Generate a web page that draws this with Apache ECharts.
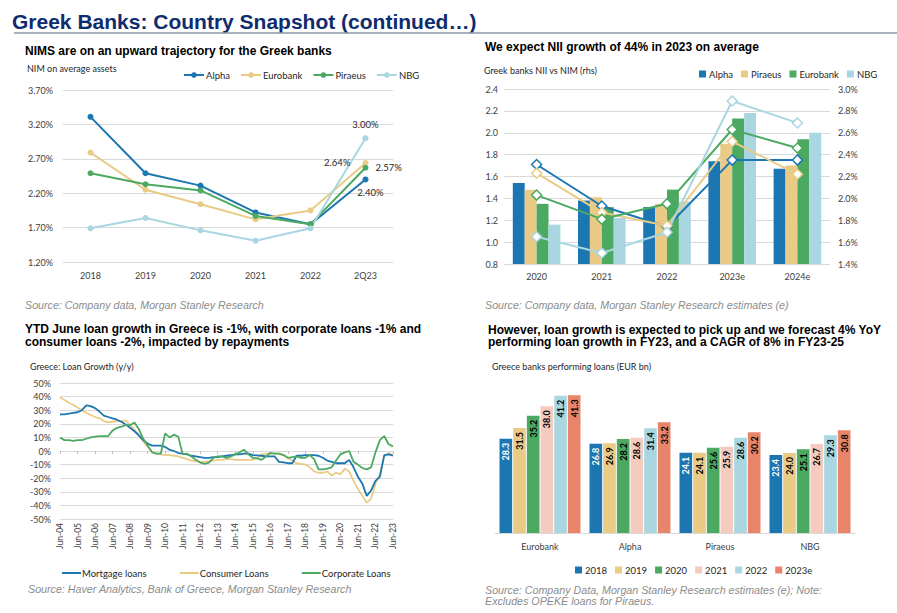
<!DOCTYPE html>
<html><head><meta charset="utf-8">
<script src="https://cdn.jsdelivr.net/npm/echarts@6/dist/echarts.min.js"></script>
<style>html,body{margin:0;padding:0;background:#fff;}#c{width:897px;height:613px;}</style>
</head><body><div id="c"></div>
<script>
// ---------- Panel 1: NIM on average assets ----------
const nimYears = ['2018','2019','2020','2021','2022','2Q23'];
const nimAlpha = [3.31,2.49,2.31,1.92,1.75,2.40];
const nimEurobank = [2.79,2.25,2.04,1.82,1.95,2.64];
const nimPiraeus = [2.49,2.33,2.24,1.87,1.75,2.57];
const nimNBG = [1.69,1.84,1.66,1.51,1.69,3.00];
const nimTicks = [1.2,1.7,2.2,2.7,3.2,3.7];

// ---------- Panel 2: NII (bars) vs NIM (lines, rhs) ----------
const niiYears = ['2020','2021','2022','2023e','2024e'];
const niiAlpha = [1.54,1.38,1.32,1.74,1.67];
const niiPiraeus = [1.48,1.41,1.35,1.90,1.70];
const niiEurobank = [1.35,1.32,1.48,2.13,1.94];
const niiNBG = [1.16,1.22,1.37,2.18,2.00];
const rhsAlpha = [2.31,1.93,1.74,2.35,2.35];
const rhsPiraeus = [2.23,1.87,1.75,2.52,2.22];
const rhsEurobank = [2.03,1.81,1.95,2.63,2.46];
const rhsNBG = [1.65,1.50,1.69,2.89,2.69];

// ---------- Panel 3: Loan growth y/y (quarterly, Jun-04 .. Jun-23) ----------
const loanMortgage = [
27,27,27.5,28, 28.5,30,33.5,33, 31.5,29,26,25, 24,23,21.5,19.5,
17,14.5,11.5,8, 5.5,4,4,4, 3,1,0,-1.5, -2,-2.5,-3.5,-4,
-4.5,-5,-5,-4.5, -4.5,-4,-3.5,-3, -2.5,-2.5,-2,-2, -3,-3.2,-3.5,-4,
-4,-4,-8,-8.3, -9,-9,-3.5,-3.5, -3,-3,-3,-3.5, -5,-7,-8,-9,
-9,-9,-6.5,-12, -19,-24,-33,-29, -22,-19,-3,-2.5, -3.5];
const loanConsumer = [
39.5,37.5,35.5,34, 32,30,28,26.5, 25,24,22,21, 21.5,22,22,22.5,
19,15.5,11.5,7, 3,-0.5,-2,-2.5, -3,-3,-3.5,-4, -5,-6,-7,-7.5,
-8,-8,-7.5,-7, -6.5,-6.5,-6,-6, -6.5,-6.5,-6.5,-6.5, -6.5,-5,-2.5,-2,
-1.5,-2,-2,-3, -5,-7,-9,-9.5, -10,-12,-15,-16, -16,-15,-18,-16,
-17,-13,-15,-22, -28,-33,-38,-35, -24,-17,-4,-1.5, -2.7];
const loanCorporate = [
10,8,8,7.5, 8,8,9,10, 10.5,11,11,11, 15,17,18,19,
19,21,16,9, 4,-1,-2,-2, 13,10,12,10.5, -2.5,-2,-4,-6.5,
-8.5,-9.5,-8.5,-5, -4,-4,-5,-4, -2.5,-1,1,-2.5, -5,-5.5,-6.5,-4,
-1.5,-2,-2,-3, -5,-4.5,-4,-5, -5,-3,-6,-13.5, -13.5,-13,-12,-7,
-2.5,-1,0,-8, -10,-12.5,-13.5,-12, -1,8,11,5, 3.4];
const monthNames = ['Jan','Feb','Mar','Apr','May','Jun','Jul','Aug','Sep','Oct','Nov','Dec'];
const loanDates = loanMortgage.map((_, i) => {
  const m = 5 + 3 * i;
  return monthNames[m % 12] + '-' + String((2004 + Math.floor(m / 12)) % 100).padStart(2, '0');
});

// ---------- Panel 4: performing loans (EUR bn) ----------
const perfBanks = ['Eurobank','Alpha','Piraeus','NBG'];
const perfYears = ['2018','2019','2020','2021','2022','2023e'];
const perf2018 = [28.3,26.8,24.1,23.4];
const perf2019 = [31.5,26.9,24.1,24.0];
const perf2020 = [35.2,28.2,25.6,25.1];
const perf2021 = [38.0,28.6,25.9,26.7];
const perf2022 = [41.2,31.4,28.6,29.3];
const perf2023e = [41.3,33.2,30.2,30.8];

// ---------- styles ----------
const C_BLUE = '#1B76B1', C_GOLD = '#EACB86', C_GREEN = '#4CA961', C_LIGHT = '#A9D6E1',
      C_PINK = '#F5CBC0', C_ORANGE = '#E7846A';
const GRID = '#d9d9d9';
const TF = '"Liberation Sans", Arial, sans-serif';
const CF = 'Lato, "Noto Sans", sans-serif';
const AX = {fontFamily: CF, fontSize: 9, color: '#404040'};

const chart = echarts.init(document.getElementById('c'), null, {renderer: 'svg'});

function lastLabel(arr, lbl) {
  return arr.map((v, i) => i === arr.length - 1 ? {value: v, label: Object.assign({show: true}, lbl)} : v);
}
function nimLine(name, arr, color, lbl) {
  return {
    type: 'line', name: name, xAxisIndex: 0, yAxisIndex: 0,
    data: lastLabel(arr, lbl), symbol: 'circle', symbolSize: 6,
    itemStyle: {color: color}, lineStyle: {color: color, width: 2},
    label: {fontFamily: CF, fontSize: 9.5, color: '#262626', formatter: p => p.value.toFixed(2) + '%'}
  };
}
function niiBar(name, arr, color) {
  return {type: 'bar', name: 'NII ' + name, xAxisIndex: 1, yAxisIndex: 1, data: arr,
    itemStyle: {color: color}, barGap: '0%', barCategoryGap: '27%'};
}
function rhsLine(name, arr, color) {
  return {type: 'line', name: 'NIM ' + name, xAxisIndex: 1, yAxisIndex: 2, data: arr, z: 4,
    symbol: 'diamond', symbolSize: 10,
    itemStyle: {color: '#fff', borderColor: color, borderWidth: 1.5},
    lineStyle: {color: color, width: 2}};
}
function loanLine(name, arr, color) {
  return {type: 'line', name: name, xAxisIndex: 2, yAxisIndex: 3, data: arr, symbol: 'none',
    itemStyle: {color: color}, lineStyle: {color: color, width: 1.8}};
}
function perfBar(name, arr, color, labelColor) {
  return {type: 'bar', name: name, xAxisIndex: 4, yAxisIndex: 4, data: arr,
    itemStyle: {color: color}, barGap: '8%', barCategoryGap: '10%',
    label: {show: true, position: 'insideTop', rotate: 90, align: 'right', verticalAlign: 'middle',
      distance: 4, fontFamily: CF, fontSize: 9, fontWeight: 'bold', color: labelColor,
      formatter: p => p.value.toFixed(1)}};
}

function txt(x, y, text, font, fill, lh) {
  const st = {text: text, font: font, fill: fill, verticalAlign: 'middle', align: 'left'};
  if (lh) st.lineHeight = lh;
  return {type: 'text', x: x, y: y, silent: true, style: st};
}
const SUB = 'bold 12px ' + TF;
const SRC = 'italic 10.7px ' + TF;
const CAP = '9px ' + CF;

const option = {
  backgroundColor: '#fff',
  animation: false,
  graphic: [
    txt(12, 21, 'Greek Banks: Country Snapshot (continued…)', 'bold 21px ' + TF, '#0E2C6E'),
    {type: 'line', silent: true, shape: {x1: 14, y1: 33, x2: 897, y2: 33}, style: {stroke: '#8e96a8', lineWidth: 1.5}},
    txt(25, 51, 'NIMS are on an upward trajectory for the Greek banks', SUB, '#000'),
    txt(485, 47, 'We expect NII growth of 44% in 2023 on average', SUB, '#000'),
    txt(25, 335.5, 'YTD June loan growth in Greece is -1%, with corporate loans -1% and\nconsumer loans -2%, impacted by repayments', SUB, '#000', 12.5),
    txt(488, 336, 'However, loan growth is expected to pick up and we forecast 4% YoY\nperforming loan growth in FY23, and a CAGR of 8% in FY23-25', SUB, '#000', 12.5),
    txt(27, 68, 'NIM on average assets', CAP, '#262626'),
    txt(484, 70, 'Greek banks NII vs NIM (rhs)', CAP, '#262626'),
    txt(30, 366, 'Greece: Loan Growth (y/y)', CAP, '#262626'),
    txt(492, 366, 'Greece banks performing loans (EUR bn)', CAP, '#262626'),
    txt(25, 305, 'Source: Company data, Morgan Stanley Research', SRC, '#8c8c8c'),
    txt(485, 305, 'Source: Company data, Morgan Stanley Research estimates (e)', SRC, '#8c8c8c'),
    txt(28, 589, 'Source: Haver Analytics, Bank of Greece, Morgan Stanley Research', SRC, '#8c8c8c'),
    txt(485, 595.5, 'Source: Company Data, Morgan Stanley Research estimates (e); Note:\nExcludes OPEKE loans for Piraeus.', SRC, '#8c8c8c', 11)
  ],
  legend: [
    {data: ['Alpha','Eurobank','Piraeus','NBG'], left: 178, top: 65, itemWidth: 20, itemHeight: 7,
      itemGap: 10, selectedMode: false, textStyle: {fontFamily: CF, fontSize: 9.5, color: '#262626', padding: [0,0,0,-3]}},
    {data: ['NII Alpha','NII Piraeus','NII Eurobank','NII NBG'], formatter: n => n.replace('NII ', ''),
      icon: 'rect', left: 694, top: 64, itemWidth: 7, itemHeight: 7, itemGap: 8, selectedMode: false,
      textStyle: {fontFamily: CF, fontSize: 9.5, color: '#262626', padding: [0,0,0,-2]}},
    {data: ['Mortgage loans','Consumer Loans','Corporate Loans'], icon: 'rect', left: 57, top: 563,
      itemWidth: 19, itemHeight: 2, itemGap: 33, selectedMode: false,
      textStyle: {fontFamily: CF, fontSize: 9.5, color: '#262626', padding: [0,0,0,-4]}},
    {data: perfYears, icon: 'rect', left: 570, top: 560, itemWidth: 7, itemHeight: 7, itemGap: 8,
      selectedMode: false, textStyle: {fontFamily: CF, fontSize: 9.5, color: '#262626', padding: [0,0,0,-2]}}
  ],
  grid: [
    {left: 63, top: 90, width: 330, height: 172},
    {left: 504, top: 89, width: 326, height: 175},
    {left: 60, top: 383, width: 333, height: 136},
    {left: 495, top: 383, width: 360, height: 150}
  ],
  xAxis: [
    {type: 'category', gridIndex: 0, data: nimYears, axisLine: {show: false}, axisTick: {show: false},
      axisLabel: Object.assign({margin: 9}, AX)},
    {type: 'category', gridIndex: 1, data: niiYears, axisLine: {show: false}, axisTick: {show: false},
      axisLabel: Object.assign({margin: 8}, AX)},
    {type: 'category', gridIndex: 2, data: loanDates, boundaryGap: false,
      axisLine: {show: false, onZero: false}, axisTick: {show: false},
      axisLabel: Object.assign({interval: 3, rotate: 90, margin: 4}, AX, {fontSize: 8.5})},
    {type: 'category', gridIndex: 2, data: loanDates, boundaryGap: false, position: 'top',
      axisLine: {show: true, onZero: true, lineStyle: {color: GRID}},
      axisTick: {show: true, interval: 3, inside: true, length: 3, lineStyle: {color: '#bfbfbf'}},
      axisLabel: {show: false}},
    {type: 'category', gridIndex: 3, data: perfBanks, axisLine: {lineStyle: {color: GRID}},
      axisTick: {show: false}, axisLabel: Object.assign({margin: 9}, AX)}
  ],
  yAxis: [
    {type: 'value', gridIndex: 0, min: 1.2, max: 3.7, interval: 0.1, splitLine: {show: false},
      axisLine: {show: false}, axisTick: {show: false},
      axisLabel: Object.assign({margin: 10, showMinLabel: true, showMaxLabel: true,
        formatter: v => { const r = Math.round(v * 10); return ((r - 12) % 5 === 0) ? (r / 10).toFixed(2) + '%' : ''; }}, AX)},
    {type: 'value', gridIndex: 1, min: 0.8, max: 2.4, interval: 0.2,
      splitLine: {lineStyle: {color: GRID}}, axisLine: {show: false}, axisTick: {show: false},
      axisLabel: Object.assign({margin: 6, formatter: v => v.toFixed(1)}, AX)},
    {type: 'value', gridIndex: 1, position: 'right', min: 1.4, max: 3.0, interval: 0.2,
      splitLine: {show: false}, axisLine: {show: false}, axisTick: {show: false},
      axisLabel: Object.assign({margin: 8, formatter: v => v.toFixed(1) + '%'}, AX)},
    {type: 'value', gridIndex: 2, min: -50, max: 50, interval: 10,
      splitLine: {lineStyle: {color: GRID}}, axisLine: {show: false}, axisTick: {show: false},
      axisLabel: Object.assign({margin: 9, formatter: v => v + '%'}, AX)},
    {type: 'value', gridIndex: 3, min: 0, max: 45, show: false}
  ],
  series: [
    Object.assign(nimLine('Alpha', nimAlpha, C_BLUE, {position: 'bottom', distance: 5, offset: [5, 0]}), {
      markLine: {silent: true, z: 1, symbol: 'none', label: {show: false},
        lineStyle: {color: GRID, type: 'solid', width: 1},
        data: nimTicks.map(v => ({yAxis: v}))}
    }),
    nimLine('Eurobank', nimEurobank, C_GOLD, {position: 'left', distance: 12}),
    nimLine('Piraeus', nimPiraeus, C_GREEN, {position: 'right', distance: 7}),
    nimLine('NBG', nimNBG, C_LIGHT, {position: 'top', distance: 6}),

    niiBar('Alpha', niiAlpha, C_BLUE),
    niiBar('Piraeus', niiPiraeus, C_GOLD),
    niiBar('Eurobank', niiEurobank, C_GREEN),
    niiBar('NBG', niiNBG, C_LIGHT),
    rhsLine('Alpha', rhsAlpha, C_BLUE),
    rhsLine('Piraeus', rhsPiraeus, C_GOLD),
    rhsLine('Eurobank', rhsEurobank, C_GREEN),
    rhsLine('NBG', rhsNBG, C_LIGHT),

    loanLine('Consumer Loans', loanConsumer, C_GOLD),
    loanLine('Mortgage loans', loanMortgage, C_BLUE),
    loanLine('Corporate Loans', loanCorporate, C_GREEN),

    perfBar('2018', perf2018, C_BLUE, '#ffffff'),
    perfBar('2019', perf2019, C_GOLD, '#000000'),
    perfBar('2020', perf2020, C_GREEN, '#000000'),
    perfBar('2021', perf2021, C_PINK, '#000000'),
    perfBar('2022', perf2022, C_LIGHT, '#000000'),
    perfBar('2023e', perf2023e, C_ORANGE, '#000000')
  ]
};
chart.setOption(option);
</script></body></html>
